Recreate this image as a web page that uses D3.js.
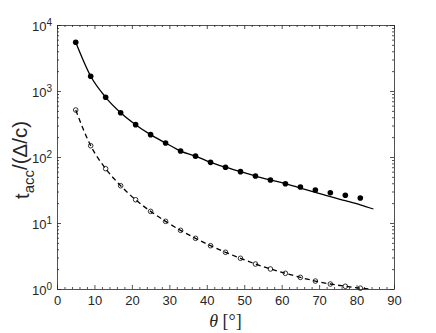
<!DOCTYPE html>
<html>
<head>
<meta charset="utf-8">
<script src="https://cdn.jsdelivr.net/npm/d3@7"></script>
<style>
  body { margin: 0; background: #fff; }
  svg { display: block; font-family: "Liberation Sans", Arial, sans-serif; }
  .axis path, .axis line { stroke: #262626; }
  .axis text { fill: #262626; font-size: 13px; font-family: "Liberation Sans", Arial, sans-serif; }
</style>
</head>
<body>
<svg width="436" height="333"></svg>
<script>
// marker positions (theta in degrees)
let theta = [5, 9, 13, 17, 21, 25, 29, 33, 37, 41, 45, 49, 53, 57, 61, 65, 69, 73, 77, 81]
let filledVals = [5470, 1670, 803, 469, 309, 218, 163, 123, 103, 83, 70, 60, 51.5, 44.9, 39.4, 35.1, 31.6, 28.8, 26.3, 23.9]
let openVals = [515, 148, 66.5, 36.7, 22.5, 15.0, 10.6, 7.74, 5.86, 4.53, 3.60, 2.92, 2.39, 2.01, 1.73, 1.50, 1.32, 1.19, 1.10, 1.03]

// curves
let solidTheta = [5, 9, 13, 17, 21, 25, 29, 33, 37, 41, 45, 49, 53, 57, 61, 65, 69, 73, 77, 81, 84.5]
let solidVals = [5470, 1670, 803, 469, 309, 218, 163, 123, 103, 83, 70, 60, 51.5, 44.9, 39.4, 33.9, 29.2, 25.0, 21.8, 18.9, 16.3]
let dashTheta = [5, 9, 13, 17, 21, 25, 29, 33, 37, 41, 45, 49, 53, 57, 61, 65, 69, 73, 77, 81, 83.5]
let dashVals = [515, 148, 66.5, 36.7, 22.5, 15.0, 10.6, 7.74, 5.86, 4.53, 3.60, 2.92, 2.39, 2.01, 1.73, 1.50, 1.32, 1.19, 1.10, 1.03, 1.0]

let xTicks = [0, 10, 20, 30, 40, 50, 60, 70, 80, 90]
let yTicks = [1, 10, 100, 1000, 10000]

let pLeft = 57, pRight = 394, pTop = 25, pBottom = 289

let svg = d3.select('svg')

let xscale = d3.scaleLinear().domain([0, 90]).range([pLeft, pRight])
let yscale = d3.scaleLog().domain([1, 10000]).range([pBottom, pTop])

let xMinor = d3.range(0, 91, 2).filter(d => d % 10 != 0)
let yMinor = []
yTicks.slice(0, -1).forEach(p => {
    for (let k = 2; k <= 9; k++) yMinor.push(p * k)
})

// clip
svg.append('clipPath').attr('id', 'clip')
    .append('rect')
    .attr('x', pLeft).attr('y', pTop)
    .attr('width', pRight - pLeft).attr('height', pBottom - pTop)

// axes: bottom & left with labels, top & right as box
let addAxis = (axisFn, scale, vals, size, tx, ty, labels) => {
    let ax = axisFn(scale).tickValues(vals).tickSizeInner(size).tickSizeOuter(0)
    if (!labels) ax.tickFormat('')
    let g = svg.append('g').attr('class', 'axis')
        .attr('transform', 'translate(' + tx + ',' + ty + ')')
        .call(ax)
    g.selectAll('line').attr('stroke-width', 0.8)
    g.select('.domain').attr('stroke-width', 0.8)
    return g
}

let gx = addAxis(d3.axisBottom, xscale, xTicks, -4, 0, pBottom, true)
gx.selectAll('text').attr('dy', '0').attr('y', 16)
addAxis(d3.axisBottom, xscale, xMinor, -2, 0, pBottom, false).select('.domain').remove()
addAxis(d3.axisTop, xscale, xTicks, -4, 0, pTop, false)
addAxis(d3.axisTop, xscale, xMinor, -2, 0, pTop, false).select('.domain').remove()

let gy = addAxis(d3.axisLeft, yscale, yTicks, -4, pLeft, 0, true)
gy.selectAll('text').each(function (d) {
    let t = d3.select(this)
    t.text('').attr('x', -5).attr('dy', '0.45em')
    t.append('tspan').text('10')
    t.append('tspan').attr('dy', '-0.5em').attr('font-size', '10px').text(Math.round(Math.log10(d)))
})
addAxis(d3.axisLeft, yscale, yMinor, -2, pLeft, 0, false).select('.domain').remove()
addAxis(d3.axisRight, yscale, yTicks, -4, pRight, 0, false)
addAxis(d3.axisRight, yscale, yMinor, -2, pRight, 0, false).select('.domain').remove()

// curves
let line = d3.line()
    .x(d => xscale(d[0]))
    .y(d => yscale(d[1]))
    .curve(d3.curveMonotoneX)

let plot = svg.append('g').attr('clip-path', 'url(#clip)')

plot.append('path')
    .datum(solidTheta.map((t, i) => [t, solidVals[i]]))
    .attr('d', line)
    .attr('fill', 'none')
    .attr('stroke', '#000')
    .attr('stroke-width', 1.3)

plot.append('path')
    .datum(dashTheta.map((t, i) => [t, dashVals[i]]))
    .attr('d', line)
    .attr('fill', 'none')
    .attr('stroke', '#000')
    .attr('stroke-width', 1.3)
    .attr('stroke-dasharray', '5,3.5')

svg.selectAll('.filled')
    .data(theta)
    .enter()
    .append('circle')
    .attr('class', 'filled')
    .attr('cx', d => xscale(d))
    .attr('cy', (d, i) => yscale(filledVals[i]))
    .attr('r', 2.8)
    .attr('fill', '#000')

svg.selectAll('.open')
    .data(theta)
    .enter()
    .append('circle')
    .attr('class', 'open')
    .attr('cx', d => xscale(d))
    .attr('cy', (d, i) => yscale(openVals[i]))
    .attr('r', 2.3)
    .attr('fill', 'none')
    .attr('stroke', '#000')
    .attr('stroke-width', 0.8)

// labels
let ylab = svg.append('text')
    .attr('transform', 'translate(29,160) rotate(-90)')
    .attr('text-anchor', 'middle')
    .attr('fill', '#262626')
    .attr('font-size', '20.5px')
ylab.append('tspan').text('t')
ylab.append('tspan').attr('dy', '0.3em').attr('font-size', '15px').text('acc')
ylab.append('tspan').attr('dy', '-0.3em').text('/(Δ/c)')

let xlab = svg.append('text')
    .attr('x', (pLeft + pRight) / 2)
    .attr('y', 327)
    .attr('text-anchor', 'middle')
    .attr('fill', '#262626')
    .attr('font-family', '"Liberation Serif", "Times New Roman", serif')
    .attr('font-size', '18px')
xlab.append('tspan').attr('font-style', 'italic').text('θ')
xlab.append('tspan').text('\u00a0[°]')
</script>
</body>
</html>
